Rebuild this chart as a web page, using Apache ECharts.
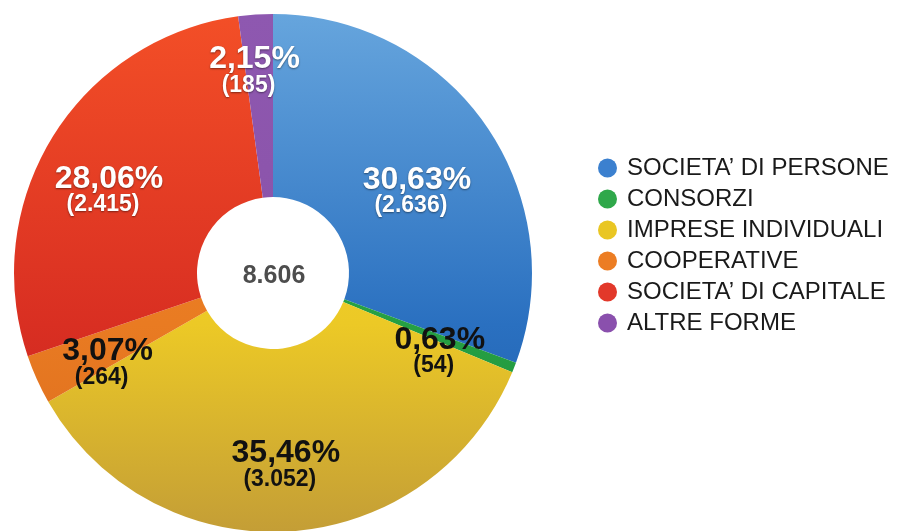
<!DOCTYPE html>
<html>
<head>
<meta charset="utf-8">
<script src="https://cdn.jsdelivr.net/npm/echarts@6/dist/echarts.min.js"></script>
<style>
  html, body { margin: 0; padding: 0; background: #ffffff; }
  #chart { width: 899px; height: 531px; }
</style>
</head>
<body>
<div id="chart"></div>
<script>
// Forme giuridiche delle imprese: numero di imprese per tipologia
const categories = [
  'SOCIETA\u2019 DI PERSONE',
  'CONSORZI',
  'IMPRESE INDIVIDUALI',
  'COOPERATIVE',
  'SOCIETA\u2019 DI CAPITALE',
  'ALTRE FORME'
];
const counts = [2636, 54, 3052, 264, 2415, 185];

// Slice styling: vertical shading per slice and legend swatch colour
const sliceGradients = [
  ['#66a5dd', '#2a70c0', '#1b59a8'],
  ['#2fa84a', '#26a043', '#1d8f3a'],
  ['#f6dc2a', '#ecc926', '#c49e36'],
  ['#f08a26', '#e97b22', '#da6a1e'],
  ['#f34f27', '#d92f22', '#c21f1e'],
  ['#8e58b0', '#8a52a8', '#7f4a9c']
];
const swatchColors = ['#3b80cf', '#2fa84a', '#e9c623', '#ec7d23', '#e2382a', '#8a50ad'];
const darkText = [false, true, true, true, false, false];
// Nudge of each label from the middle of its ring segment
const labelShift = [[4, 17], [8, 17], [2, 23], [-10, 21], [-19, 8], [-7, -31]];

const total = counts.reduce((a, b) => a + b, 0);
const fmtThousands = n => String(n).replace(/\B(?=(\d{3})+(?!\d))/g, '.');
const fmtPct = v => (v / total * 100).toFixed(2).replace('.', ',') + '%';

const FONT = '"Liberation Sans", Arial, Helvetica, sans-serif';
const CX = 273, CY = 273;

function grad(stops) {
  return new echarts.graphic.LinearGradient(0, 14, 0, 531, [
    { offset: 0, color: stops[0] },
    { offset: 0.6, color: stops[1] },
    { offset: 1, color: stops[2] }
  ], true);
}

const seriesData = categories.map((name, i) => {
  const dark = darkText[i];
  const txt = dark ? '#111111' : '#ffffff';
  const shadow = dark ? 'rgba(0,0,0,0)' : 'rgba(0,0,0,0.45)';
  return {
    name: name,
    value: counts[i],
    itemStyle: { color: grad(sliceGradients[i]) },
    label: {
      offset: labelShift[i],
      rich: {
        p: {
          fontFamily: FONT, fontWeight: 'bold', fontSize: 32, lineHeight: 27,
          color: txt, textShadowColor: shadow,
          textShadowBlur: dark ? 0 : 2, textShadowOffsetX: 0, textShadowOffsetY: 1
        },
        c: {
          fontFamily: FONT, fontWeight: 'bold', fontSize: 23, lineHeight: 25,
          color: txt, padding: [0, 12, 0, 0], textShadowColor: shadow,
          textShadowBlur: dark ? 0 : 2, textShadowOffsetX: 0, textShadowOffsetY: 1
        }
      }
    }
  };
});

const chart = echarts.init(document.getElementById('chart'), null, { renderer: 'canvas' });
chart.setOption({
  backgroundColor: '#ffffff',
  animation: false,
  title: {
    text: fmtThousands(total),
    left: CX - 4, top: CY - 14,
    textAlign: 'center',
    textStyle: { fontFamily: FONT, fontWeight: 'bold', fontSize: 25, color: '#4d4d4d' }
  },
  legend: {
    orient: 'vertical',
    left: 593, top: 151,
    icon: 'circle',
    itemWidth: 19, itemHeight: 19, itemGap: 7,
    selectedMode: false,
    textStyle: { fontFamily: FONT, fontSize: 24, color: '#1a1a1a', padding: [0, 0, 0, 5] },
    data: categories.map((name, i) => ({ name: name, itemStyle: { color: swatchColors[i] } }))
  },
  series: [{
    type: 'pie',
    center: [CX, CY],
    radius: [76, 259],
    startAngle: 90,
    clockwise: true,
    avoidLabelOverlap: false,
    silent: true,
    itemStyle: { borderWidth: 0 },
    label: {
      show: true,
      position: 'inside',
      formatter: p => '{p|' + fmtPct(p.value) + '}\n{c|(' + fmtThousands(p.value) + ')}'
    },
    labelLine: { show: false },
    data: seriesData
  }]
});
</script>
</body>
</html>
